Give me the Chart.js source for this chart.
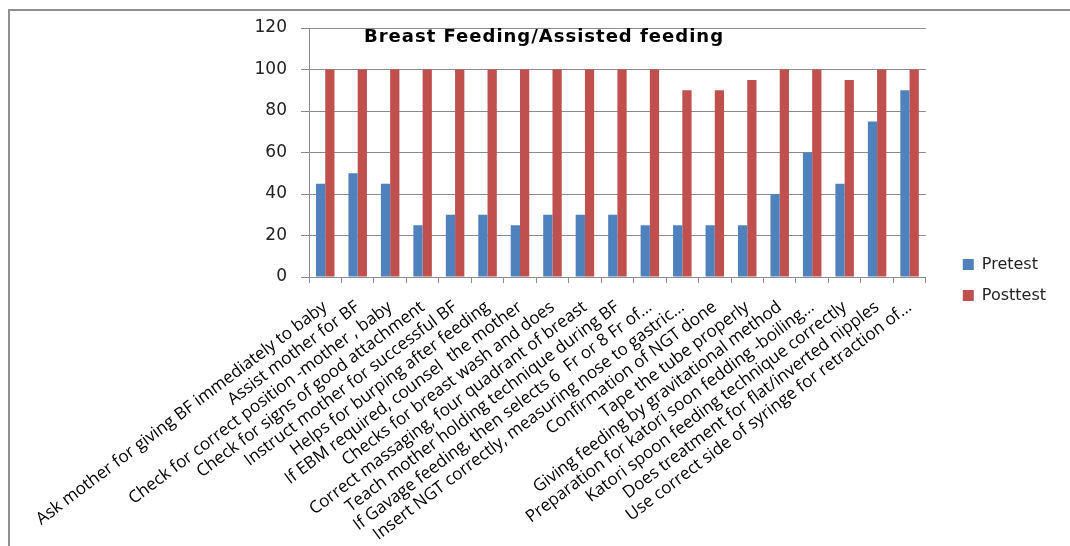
<!DOCTYPE html>
<html>
<head>
<meta charset="utf-8">
<script src="https://cdn.jsdelivr.net/npm/chart.js@4.4.1/dist/chart.umd.min.js"></script>
<style>
  html, body { margin: 0; padding: 0; background: #ffffff; overflow: hidden; }
  #wrap { position: relative; width: 1070px; height: 546px; overflow: hidden; }
  .edge { position: absolute; background: #8f8f8f; }
  #edgeTop { left: 8px; top: 9px; width: 1062px; height: 2px; }
  #edgeLeft { left: 8px; top: 9px; width: 2px; height: 537px; }
  #c { position: absolute; left: 0; top: 0; }
</style>
</head>
<body>
<div id="wrap">
  <div class="edge" id="edgeTop"></div>
  <div class="edge" id="edgeLeft"></div>
  <canvas id="c" width="1070" height="546"></canvas>
</div>
<script>
// Checklist items (x axis)
const categories = [
  'Ask mother for giving BF immediately to baby',
  'Assist mother for BF',
  'Check for correct position -mother , baby',
  'Check for signs of good attachment',
  'Instruct mother for successful BF',
  'Helps for burping after feeding',
  'If EBM required, counsel  the mother',
  'Checks for breast wash and does',
  'Correct massaging, four quadrant of breast',
  'Teach mother holding technique during BF',
  'If Gavage feeding, then selects 6  Fr or 8 Fr of\u2026',
  'Insert NGT correctly, measuring nose to gastric\u2026',
  'Confirmation of NGT done',
  'Tape the tube properly',
  'Giving feeding by gravitational method',
  'Preparation for katori soon fedding -boiling\u2026',
  'Katori spoon feeding technique correctly',
  'Does treatment for flat/inverted nipples',
  'Use correct side of syringe for retraction of\u2026'
];

// Percentage scores
const pretest  = [45, 50, 45, 25, 30, 30, 25, 30, 30, 30, 25, 25, 25, 25, 40, 60, 45, 75, 90];
const posttest = [100, 100, 100, 100, 100, 100, 100, 100, 100, 100, 100, 90, 90, 95, 100, 100, 95, 100, 100];

const seriesNames = ['Pretest', 'Posttest'];
const yTickValues = [0, 20, 40, 60, 80, 100, 120];
const chartTitle = 'Breast Feeding/Assisted feeding';

const AXIS_GREY = '#8a8a8a';

// Title sits inside the plot area, near the top gridline
const innerTitle = {
  id: 'innerTitle',
  afterDraw(chart) {
    const { ctx, chartArea } = chart;
    ctx.save();
    ctx.font = 'bold 18px "DejaVu Sans"';
    if ('letterSpacing' in ctx) ctx.letterSpacing = '1px';
    ctx.fillStyle = '#000000';
    ctx.textAlign = 'center';
    ctx.textBaseline = 'middle';
    ctx.fillText(chartTitle, chartArea.left + 235, chartArea.top + 9);
    ctx.restore();
  }
};

// Leave a gap between the plot and the legend, and lift the legend a little
const legendNudge = {
  id: 'legendNudge',
  afterLayout(chart) {
    const lg = chart.legend;
    if (!lg) return;
    lg.left += 22; lg.right += 22;
    lg.top -= 7; lg.bottom -= 7;
  }
};

new Chart(document.getElementById('c'), {
  type: 'bar',
  data: {
    labels: categories,
    datasets: [
      { label: seriesNames[0], data: pretest,  backgroundColor: '#4f81bd', borderWidth: 0 },
      { label: seriesNames[1], data: posttest, backgroundColor: '#c0504d', borderWidth: 0 }
    ]
  },
  options: {
    responsive: false,
    animation: false,
    devicePixelRatio: 1,
    layout: { padding: { top: 28, right: 36, left: 0, bottom: 0 } },
    datasets: { bar: { categoryPercentage: 0.57, barPercentage: 1.0 } },
    scales: {
      x: {
        grid: { display: true, drawOnChartArea: false, drawTicks: true, tickLength: 6, color: AXIS_GREY },
        border: { display: true, color: AXIS_GREY, width: 1 },
        ticks: {
          autoSkip: false,
          minRotation: 37,
          maxRotation: 37,
          padding: 14,
          color: '#000000',
          font: { family: '"Open Sans"', size: 17 }
        },
        afterFit(scale) { scale.height = 269; }
      },
      y: {
        min: 0,
        max: 120,
        afterBuildTicks(scale) { scale.ticks = yTickValues.map(v => ({ value: v })); },
        grid: { color: AXIS_GREY, lineWidth: 1, drawTicks: true, tickLength: 8 },
        border: { display: true, color: AXIS_GREY, width: 1 },
        ticks: {
          padding: 14,
          color: '#222222',
          font: { family: '"DejaVu Sans"', size: 17 }
        },
        afterFit(scale) { scale.width = 309; }
      }
    },
    plugins: {
      legend: {
        position: 'right',
        labels: {
          boxWidth: 11,
          boxHeight: 11,
          padding: 15,
          color: '#222222',
          font: { family: '"DejaVu Sans"', size: 16 }
        }
      },
      title: { display: false },
      tooltip: { enabled: false }
    }
  },
  plugins: [innerTitle, legendNudge]
});
</script>
</body>
</html>
